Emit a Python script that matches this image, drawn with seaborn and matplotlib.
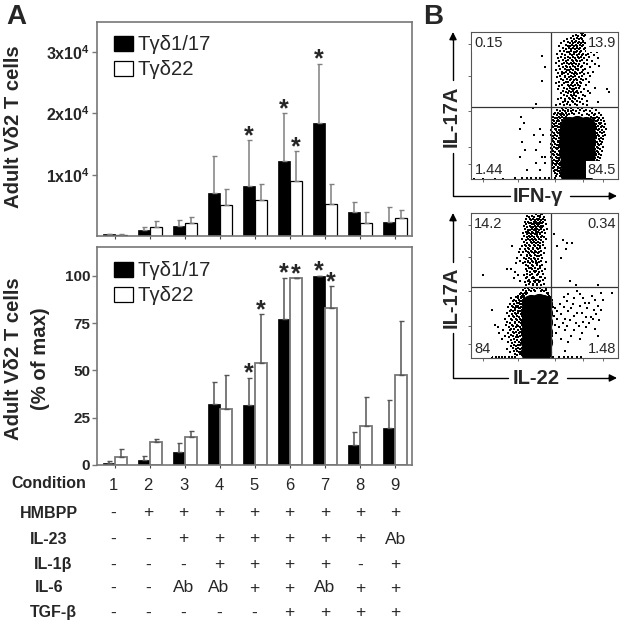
import numpy as np
import pandas as pd
import matplotlib
matplotlib.use("Agg")
import matplotlib.pyplot as plt
from matplotlib.lines import Line2D
import seaborn as sns

# bar data
conditions = ["1", "2", "3", "4", "5", "6", "7", "8", "9"]
subsets = ["Tγδ1/17", "Tγδ22"]

counts_17 = [0.03, 0.10, 0.17, 0.70, 0.82, 1.23, 1.85, 0.39, 0.23]
counts_22 = [0.02, 0.14, 0.21, 0.51, 0.58, 0.89, 0.53, 0.22, 0.29]
counts_17_top = [0.04, 0.15, 0.26, 1.31, 1.56, 2.00, 2.81, 0.55, 0.48]
counts_22_top = [0.03, 0.24, 0.31, 0.76, 0.84, 1.38, 0.84, 0.39, 0.42]

pct_17 = [1.2, 2.6, 6.7, 32, 31.7, 77, 100, 10.8, 19.6]
pct_22 = [4.4, 12, 14.6, 29.8, 54, 98.8, 83, 20.6, 47.4]
pct_17_top = [2.3, 5, 11.8, 44, 46, 99, 100, 17.3, 34.4]
pct_22_top = [8.6, 14, 18, 47.6, 79.7, 98.8, 94.5, 35.8, 76.4]

# which bars get a star (condition index)
stars_counts_17 = [4, 5, 6]
stars_counts_22 = [5]
stars_pct_17 = [4, 5, 6]
stars_pct_22 = [4, 5, 6]

# table under the bars
row_names = ["HMBPP", "IL-23", "IL-1β", "IL-6", "TGF-β"]
row_hmbpp = ["-", "+", "+", "+", "+", "+", "+", "+", "+"]
row_il23 = ["-", "-", "+", "+", "+", "+", "+", "+", "Ab"]
row_il1 = ["-", "-", "-", "+", "+", "+", "+", "-", "+"]
row_il6 = ["-", "-", "Ab", "Ab", "+", "+", "Ab", "+", "+"]
row_tgf = ["-", "-", "-", "-", "-", "+", "+", "+", "+"]

# flow plots: solid parts of the clouds, then rows of single dots (y, [x...]), estimated by eye
core1_x = [67, 72, 77, 67, 72, 78, 66, 72, 78, 66, 72, 78, 66, 72, 78, 67, 72, 78]
core1_y = [4, 4, 4, 11, 11, 11, 18, 18, 18, 25, 25, 25, 31, 31, 31, 36, 37, 36]
rows1 = [
    (99.2, [74.5, 76.1]), (98.1, [71.3, 75.2, 77.8]), (97.2, [73.1, 69.4, 76.7]), (96.1, [67.8, 72.2, 74.6, 78.9]),
    (95.2, [70.3, 73.8, 75.5, 65.1]), (94.1, [68.7, 71.6, 76.4, 79.7, 63.2]), (93.3, [66.2, 70.9, 73.3, 75.9, 81.4]),
    (92.2, [61.4, 67.5, 69.6, 72.7, 74.8, 77.3, 84.6]), (91.1, [64.3, 68.9, 71.1, 73.9, 76.2, 78.8]),
    (90.2, [59.8, 65.7, 67.1, 70.4, 72.4, 75.3, 80.2, 86.7]), (89.1, [62.6, 66.4, 69.2, 71.8, 74.1, 77.6, 83.1]),
    (88.2, [64.9, 67.9, 70.7, 73.4, 76.8, 79.3]), (87.1, [60.7, 63.5, 68.3, 72.1, 75.1, 78.2, 88.2]),
    (86.2, [65.3, 66.9, 69.9, 71.4, 74.4, 81.7, 85.4]), (85.1, [58.6, 62.2, 67.4, 70.1, 73.2, 76.5, 79.9]),
    (84.2, [64.1, 68.6, 71.9, 75.7, 78.4, 83.6]), (83.1, [61.1, 65.9, 69.4, 72.8, 74.9, 80.6]),
    (82.2, [59.3, 63.8, 67.2, 70.6, 73.7, 77.1, 86.1]), (81.1, [62.9, 66.1, 68.4, 71.2, 75.4, 79.1]),
    (80.2, [60.2, 64.7, 69.1, 72.3, 74.3, 82.4]), (79.1, [58.1, 63.1, 65.6, 67.7, 70.2, 76.9]),
    (78.2, [61.8, 66.7, 68.8, 71.7, 73.6, 78.7, 84.1]), (77.1, [59.9, 64.4, 69.7, 72.6, 75.8, 87.4]),
    (76.2, [62.4, 65.2, 67.6, 70.8, 74.7, 80.9]), (75.1, [60.6, 63.9, 68.1, 71.3, 73.1, 77.7]),
    (74.2, [57.9, 65.4, 66.8, 69.3, 72.9, 76.1]), (73.1, [61.6, 64.6, 67.3, 70.5, 75.2, 83.3]),
    (72.2, [59.1, 63.3, 68.7, 71.6, 74.2, 79.4]), (71.1, [62.1, 66.3, 69.8, 72.2, 77.2]),
    (70.2, [60.4, 64.2, 67.9, 70.9, 75.6, 81.1]), (69.1, [58.4, 63.7, 66.6, 69.1, 73.3]),
    (68.2, [61.3, 65.1, 68.2, 71.1, 74.6, 78.1]), (67.1, [62.8, 67.1, 70.3, 72.4, 76.3]),
    (66.2, [59.6, 64.8, 66.2, 69.5, 73.9, 80.3]), (65.1, [57.6, 63.4, 68.9, 71.8, 75.1]),
    (64.2, [61.9, 65.8, 67.8, 70.7, 72.7, 77.9]), (63.1, [60.1, 66.4, 69.2, 74.4]),
    (62.2, [63.6, 67.4, 71.4, 73.5, 84.3]), (61.1, [58.9, 65.5, 68.6, 70.1, 76.7, 92.3]),
    (60.2, [62.3, 66.9, 69.4, 72.1, 79.6]), (59.1, [64.9, 68.1, 71.2, 74.9, 94.1]),
    (58.2, [60.9, 66.1, 69.9, 72.8, 81.2]), (57.1, [63.2, 67.7, 70.4, 75.9]),
    (56.2, [65.3, 68.9, 71.7, 77.4]), (55.1, [61.2, 66.6, 69.1, 73.2]),
    (54.2, [59.4, 64.1, 67.2, 70.9, 75.3]), (53.1, [63.9, 68.4, 72.3, 78.6]),
    (52.2, [62.7, 66.3, 69.6, 74.1, 86.2]), (51.1, [60.3, 65.1, 70.6, 76.2]),
    (50.2, [57.7, 63.3, 67.6, 71.9, 79.2]), (48.1, [61.7, 64.5, 68.3, 72.6, 75.7, 82.1]),
    (47.2, [58.3, 62.5, 66.2, 69.7, 74.3, 78.3, 84.7]), (46.1, [60.5, 63.7, 65.9, 67.9, 71.1, 76.6, 80.7]),
    (45.2, [57.4, 59.2, 61.6, 64.3, 68.8, 73.4, 82.3, 86.8]), (44.1, [56.8, 60.8, 62.6, 66.7, 70.2, 78.9, 84.2]),
    (43.2, [58.7, 61.1, 63.4, 65.2, 75.4, 80.1, 83.4, 88.1]), (42.1, [56.1, 59.7, 62.2, 64.7, 81.3, 85.7]),
    (41.2, [57.3, 58.2, 60.6, 63.1, 82.7, 84.4, 87.2, 89.6]), (40.1, [55.9, 59.1, 61.8, 83.6, 86.3, 88.7]),
    (39.2, [56.6, 58.4, 60.2, 62.3, 84.9, 85.5, 90.4]), (38.1, [55.2, 57.8, 61.4, 83.2, 86.9, 88.3]),
    (37.2, [56.3, 59.6, 60.7, 84.1, 85.2, 87.8, 91.1]), (36.1, [54.8, 57.1, 58.8, 61.9, 83.9, 86.6, 89.2]),
    (35.2, [55.7, 59.3, 60.4, 84.7, 88.4, 90.3]), (34.1, [56.9, 58.1, 61.2, 85.1, 87.1, 91.6]),
    (33.2, [54.6, 57.6, 59.9, 83.7, 86.1, 89.4]), (32.1, [55.4, 58.6, 60.9, 84.3, 87.6, 90.7]),
    (31.2, [56.2, 59.2, 61.6, 85.6, 88.8]), (30.1, [54.3, 57.4, 60.3, 83.4, 86.4, 91.3]),
    (29.2, [55.8, 58.3, 61.1, 84.8, 87.3, 89.9]), (28.1, [56.7, 59.8, 60.6, 85.3, 88.2]),
    (27.2, [54.9, 57.9, 61.3, 83.8, 86.8, 90.1]), (26.1, [55.6, 58.9, 60.1, 84.4, 87.9]),
    (25.2, [56.4, 59.4, 61.7, 85.8, 89.1]), (24.1, [54.2, 57.2, 60.8, 83.3, 86.2, 88.6]),
    (23.2, [55.3, 58.7, 59.7, 84.6, 87.4]), (22.1, [56.8, 60.2, 61.4, 85.4, 89.7]),
    (21.2, [54.7, 57.7, 59.1, 83.6, 86.7]), (20.1, [55.1, 58.2, 60.9, 84.2, 87.7]),
    (19.2, [56.1, 59.6, 61.2, 85.9, 88.9]), (18.1, [54.4, 57.3, 60.4, 83.1, 86.3]),
    (17.2, [55.9, 58.8, 61.8, 84.9, 87.2]), (16.1, [56.6, 59.3, 60.7, 85.2, 88.4]),
    (15.2, [54.5, 57.5, 61.1, 83.7, 86.6]), (14.1, [55.2, 58.4, 59.8, 84.5, 87.5]),
    (13.2, [56.3, 60.1, 61.6, 85.7]), (12.1, [54.8, 57.8, 59.2, 83.4, 86.9]),
    (11.2, [55.7, 58.6, 60.6]), (10.1, [56.9, 59.7, 61.3]), (9.2, [55.4, 57.6, 60.3]), (8.1, [56.2, 58.9, 61.7]),
    (7.2, [55.6, 59.1, 60.8]), (6.1, [57.1, 58.3, 61.2]), (5.2, [56.5, 59.4, 60.2]), (4.1, [57.4, 60.7]),
    (3.2, [58.6, 61.4]), (2.1, [57.8, 60.4]),
    # the few cells left of the gate
    (84, [48]), (76, [50]), (67, [48]), (51, [44]), (48.5, [42]), (42, [34]), (38, [36]), (34, [33, 47]),
    (30, [43, 49]), (25, [35, 47]), (20, [37, 44]), (15, [33, 48, 50]), (11, [44, 50]), (6, [38, 47]),
    (1, [2, 8, 16, 22, 30, 35, 38, 41, 44, 47, 50, 53, 57]),
]

core2_x = [40, 45, 48, 40, 45, 49, 40, 45, 49, 40, 45, 49, 40, 45, 49, 41, 46, 49]
core2_y = [4, 4, 4, 11, 11, 11, 18, 18, 18, 25, 25, 25, 31, 31, 31, 37, 38, 37]
rows2 = [
    (99.2, [44.3, 47.6, 48.4]), (98.1, [38.2, 41.7, 45.3, 46.8]), (97.2, [39.6, 43.1, 47.2, 49.4]),
    (96.1, [37.4, 40.3, 42.2, 44.7, 46.1, 48.7]), (95.2, [41.1, 43.8, 45.9, 47.9, 50.2]),
    (94.1, [36.6, 38.8, 42.7, 44.2, 46.6, 49.1]), (93.2, [39.2, 40.9, 43.4, 45.4, 47.4, 48.2]),
    (92.1, [37.7, 41.6, 42.9, 44.9, 46.3, 50.7]), (91.2, [35.9, 39.9, 43.6, 45.7, 47.8, 49.3]),
    (90.1, [38.4, 40.6, 42.1, 44.4, 46.9, 48.6]), (89.2, [36.9, 41.3, 43.2, 45.1, 47.3, 51.6]),
    (88.1, [39.1, 40.2, 42.6, 44.1, 46.4, 49.7]), (87.2, [37.2, 38.7, 41.8, 43.9, 45.8, 48.1]),
    (86.1, [35.4, 39.7, 42.4, 44.6, 47.1, 50.4]), (85.2, [38.1, 40.8, 43.3, 45.2, 46.7, 56.2]),
    (84.1, [36.3, 39.3, 41.4, 44.8, 48.4]), (83.2, [37.9, 40.1, 42.8, 45.6, 47.7, 49.9]),
    (82.1, [34.6, 38.9, 41.2, 43.7, 46.2, 51.1]), (81.2, [37.1, 39.8, 42.3, 44.3, 47.4, 62.4]),
    (80.1, [35.8, 40.7, 43.1, 45.9, 48.8]), (79.2, [38.3, 41.6, 44.2, 46.6, 65.2, 68.4]),
    (78.1, [36.7, 39.4, 42.7, 45.3, 49.2]), (77.2, [28.2, 34.9, 37.6, 40.4, 43.8, 47.2, 58.3]),
    (76.1, [38.6, 41.9, 44.7, 46.8, 50.3]), (75.2, [33.1, 36.4, 39.6, 42.2, 45.4, 64.3]),
    (74.1, [37.3, 40.9, 43.4, 47.9]), (73.2, [32.4, 35.3, 38.8, 41.3, 44.1, 46.3]),
    (72.1, [39.2, 42.6, 45.7, 49.6]), (71.2, [34.2, 37.8, 40.2, 43.6, 47.6]),
    (70.1, [38.1, 41.1, 44.9, 46.1]), (69.2, [31.3, 36.1, 39.7, 42.9, 48.3, 61.2]),
    (68.1, [37.4, 40.6, 43.2, 45.6]), (67.2, [33.4, 38.6, 41.8, 44.4, 47.3]),
    (66.1, [36.8, 39.1, 42.1, 46.4, 51.2]), (65.2, [30.4, 35.1, 40.3, 43.9, 45.1]),
    (64.1, [37.7, 41.4, 44.6, 48.1]), (63.2, [38.9, 42.4, 46.9]), (62.1, [39.4, 40.8, 43.3, 47.1]),
    (61.2, [24.3, 27.1, 37.2, 41.7, 45.3, 50.1]), (60.1, [38.4, 42.8, 44.3, 48.6]),
    (59.2, [30.2, 39.9, 43.7, 46.2]), (58.1, [37.9, 41.2, 45.8, 49.3]),
    (57.2, [8.3, 32.1, 36.2, 40.1, 44.8]), (56.1, [38.2, 42.3, 46.7, 47.8]),
    (55.2, [29.2, 37.1, 41.6, 43.1, 50.4]), (54.1, [39.3, 44.1, 45.9, 48.9]),
    (53.2, [33.2, 38.7, 42.9, 47.2, 67.3]), (52.1, [36.6, 40.4, 43.8, 46.1]),
    (51.2, [39.6, 41.9, 44.6, 49.7]), (50.1, [37.3, 42.2, 45.2, 47.7, 71.4, 86.3]),
    (48.1, [36.4, 38.6, 41.3, 44.9, 46.8, 51.3]), (47.1, [35.2, 39.2, 42.7, 48.2, 50.8]),
    (46.2, [37.6, 40.7, 43.6, 47.3, 49.4, 72.3]), (45.1, [34.3, 36.9, 38.4, 51.6, 52.7, 88.4, 96.2]),
    (44.2, [33.3, 35.6, 37.2, 52.3, 66.2, 74.1]), (43.1, [32.2, 34.7, 36.1, 53.2, 82.4]),
    (42.2, [30.3, 33.8, 35.2, 52.8, 54.1, 63.1]), (41.1, [27.4, 31.7, 34.1, 36.3, 53.6, 70.4, 76.2]),
    (40.2, [29.1, 32.6, 35.7, 52.1, 55.2, 84.3, 90.1]), (39.1, [28.3, 30.9, 33.4, 34.9, 53.9, 65.4]),
    (38.2, [31.2, 32.9, 35.3, 52.6, 77.3, 80.2]), (37.1, [26.2, 29.4, 33.1, 34.4, 54.6, 60.3, 69.2]),
    (36.2, [27.7, 30.6, 32.3, 35.8, 53.1, 74.4, 86.1]), (35.1, [25.3, 28.6, 31.4, 34.2, 55.7, 63.6]),
    (34.2, [29.8, 32.7, 33.6, 35.4, 52.4, 57.1, 68.3, 79.2]), (33.1, [14.2, 27.2, 30.2, 34.8, 54.3, 83.4, 88.2]),
    (32.2, [26.6, 28.9, 31.8, 33.2, 53.4, 58.2, 66.1]), (31.1, [24.2, 29.6, 32.1, 35.1, 55.1, 72.3, 75.4]),
    (30.2, [27.6, 30.8, 33.9, 52.9, 61.4, 85.2]), (29.1, [25.8, 28.3, 31.1, 34.6, 56.3, 70.3]),
    (28.2, [29.3, 32.4, 35.6, 53.7, 78.2, 81.3]), (27.1, [23.3, 26.9, 30.4, 33.3, 58.6, 64.2, 83.1]),
    (26.2, [28.1, 31.6, 34.3, 52.2, 67.4, 87.3]), (25.1, [24.8, 29.9, 32.8, 35.9, 54.9, 76.1]),
    (24.2, [26.3, 30.1, 33.7, 62.3, 71.2, 80.4]), (23.1, [16.3, 23.9, 27.8, 31.3, 34.7, 52.7, 57.4]),
    (22.2, [28.8, 32.2, 35.2, 65.3, 73.4]), (21.1, [18.2, 25.6, 30.7, 33.1, 53.3, 60.2, 78.3]),
    (20.2, [27.3, 29.4, 34.1, 84.4]), (19.1, [22.1, 26.8, 31.9, 35.7, 52.3, 64.1, 70.2]),
    (18.2, [28.4, 30.3, 33.4, 54.4]), (17.1, [19.3, 25.1, 29.2, 32.6, 36.1, 53.8, 58.1, 75.3]),
    (16.2, [27.1, 31.2, 34.9, 52.6]), (15.1, [23.2, 28.7, 33.2, 35.3, 55.4, 68.2, 86.4]),
    (14.2, [26.1, 30.6, 32.3, 36.3]), (13.1, [21.3, 29.1, 34.4, 52.1, 61.3, 74.2]),
    (12.2, [27.4, 31.4, 33.8, 35.8]), (11.1, [25.2, 30.2, 32.7, 36.4, 53.2, 66.3]),
    (10.2, [28.2, 34.2, 35.4]), (9.1, [29.3, 31.7, 33.3, 52.4]), (8.2, [27.2, 30.9, 36.2, 54.1]),
    (7.1, [28.6, 32.1, 34.7, 35.6]), (6.2, [24.3, 30.4, 33.6, 53.4]), (5.1, [29.4, 31.1, 35.1, 64.2]),
    (4.2, [26.4, 32.6, 34.3, 36.6]), (3.1, [30.1, 33.1, 35.7, 52.2]), (2.2, [31.6, 34.6, 36.3]),
    (1, [14, 17, 19, 21, 23, 26, 28, 30, 56, 60, 63, 66, 69, 72, 75]),
]

labels1 = ["0.15", "13.9", "1.44", "84.5"]
labels2 = ["14.2", "0.34", "84", "1.48"]

sns.set_style("white")
plt.rcParams["font.family"] = ["Liberation Sans", "DejaVu Sans"]
plt.rcParams["mathtext.fontset"] = "custom"
plt.rcParams["mathtext.bf"] = "Liberation Sans:bold"
plt.rcParams["mathtext.rm"] = "Liberation Sans"

W, H = 624, 628
fig = plt.figure(figsize=(W / 100, H / 100), dpi=100)


def axes_px(left, top, right, bottom):
    return fig.add_axes([left / W, 1 - bottom / H, (right - left) / W, (bottom - top) / H])


def bars(ax, v17, v22, top17, top22, err_col, edge_col, edge_w, ymax, leg_y):
    df = pd.DataFrame({
        "condition": conditions * 2,
        "value": v17 + v22,
        "subset": [subsets[0]] * 9 + [subsets[1]] * 9,
    })
    sns.barplot(data=df, x="condition", y="value", hue="subset", order=conditions,
                palette={subsets[0]: "black", subsets[1]: "white"}, width=0.686,
                gap=0, errorbar=None, saturation=1, ax=ax)
    centers = []
    for cont, vals, tops in zip(ax.containers, (v17, v22), (top17, top22)):
        xs = [p.get_x() + p.get_width() / 2 for p in cont.patches]
        centers.append(xs)
        for p in cont.patches:
            p.set_edgecolor(edge_col if vals is v22 else "black")
            p.set_linewidth(edge_w if vals is v22 else 0.5)
        vals = np.array(vals)
        ax.errorbar(xs, vals, yerr=[np.zeros(9), np.array(tops) - vals], fmt="none",
                    ecolor=err_col, elinewidth=1.1, capsize=1.8, capthick=1, zorder=1)
    ax.set_xlim(-0.514, 8.486)
    ax.set_ylim(0, ymax)
    ax.set_xlabel("")
    ax.set_ylabel("")
    ax.tick_params(axis="x", bottom=True, length=2.5, width=0.8, color="#444444", labelbottom=False)
    ax.tick_params(axis="y", left=True, length=3.5, width=1, color="#777777", pad=1.5)
    for s in ax.spines.values():
        s.set_color("#777777")
        s.set_linewidth(1.2)
    handles, names = ax.get_legend_handles_labels()
    ax.legend(handles, names, loc="upper left", bbox_to_anchor=(0.035, leg_y), frameon=False,
              fontsize=14.6, handlelength=0.92, handleheight=0.72, handletextpad=0.22,
              labelspacing=0.3, borderpad=0.3, borderaxespad=0)
    leg = ax.get_legend()
    leg.legend_handles[0].set_edgecolor("black")
    leg.legend_handles[1].set_edgecolor("black")
    leg.legend_handles[1].set_linewidth(0.9)
    return centers


def stars(ax, xs, tops, idx):
    for i in idx:
        ax.annotate("*", (xs[i], tops[i]), xytext=(0, -5.5), textcoords="offset points",
                    ha="center", va="bottom", fontsize=18, fontweight="bold", annotation_clip=False)


def flow(ax, core_x, core_y, rows, texts):
    ax.set_xlim(0, 100)
    ax.set_ylim(0, 100)
    sns.scatterplot(x=core_x, y=core_y, s=190, color="black", linewidth=0, marker="o", ax=ax)
    xs = np.concatenate([r[1] for r in rows])
    ys = np.concatenate([[r[0]] * len(r[1]) for r in rows])
    sns.scatterplot(x=xs, y=ys, s=2.8, color="black", linewidth=0, marker="s", ax=ax)
    ax.axvline(54.5, color="#333333", lw=0.9)
    ax.axhline(49, color="#333333", lw=0.9)
    for s in ax.spines.values():
        s.set_color("#555555")
        s.set_linewidth(0.8)
    ax.set_xticks([8, 32, 57, 76, 90])
    ax.set_yticks([10, 22, 46, 70, 92])
    ax.tick_params(length=2, width=0.6, color="#555555", labelbottom=False, labelleft=False, bottom=True, left=True)
    box = dict(facecolor="white", edgecolor="none", pad=1)
    ax.text(2, 97, texts[0], va="top", ha="left", fontsize=10.5, bbox=box)
    ax.text(98.5, 97, texts[1], va="top", ha="right", fontsize=10.5, bbox=box)
    ax.text(2.5, 1.5, texts[2], va="bottom", ha="left", fontsize=10.5, bbox=box)
    ax.text(98.5, 1.5, texts[3], va="bottom", ha="right", fontsize=10.5, bbox=box)


# panel A, counts
ax1 = axes_px(97, 22, 412, 236)
c1 = bars(ax1, counts_17, counts_22, counts_17_top, counts_22_top, "#808080", "black", 0.9, 3.49, 0.966)
ax1.set_yticks([1, 2, 3])
ax1.set_yticklabels([r"$\mathbf{1x10^4}$", r"$\mathbf{2x10^4}$", r"$\mathbf{3x10^4}$"], fontsize=11.5)
stars(ax1, c1[0], counts_17_top, stars_counts_17)
stars(ax1, c1[1], counts_22_top, stars_counts_22)

# panel A, percent
ax2 = axes_px(97, 247, 412, 465)
c2 = bars(ax2, pct_17, pct_22, pct_17_top, pct_22_top, "#555555", "#777777", 1.3, 115.3, 0.962)
ax2.set_yticks([0, 25, 50, 75, 100])
ax2.set_yticklabels(["0", "25", "50", "75", "100"], fontweight="bold", fontsize=11)
stars(ax2, c2[0], pct_17_top, stars_pct_17)
stars(ax2, c2[1], pct_22_top, stars_pct_22)

# panel B
ax3 = axes_px(471, 32, 618, 179)
flow(ax3, core1_x, core1_y, rows1, labels1)
ax4 = axes_px(471, 213, 618, 358)
flow(ax4, core2_x, core2_y, rows2, labels2)

# overlay in pixels for labels, table text and the arrows of panel B
ov = fig.add_axes([0, 0, 1, 1], zorder=5)
ov.set_xlim(0, W)
ov.set_ylim(H, 0)
ov.axis("off")
ov.patch.set_alpha(0)

bold = dict(fontweight="bold", ha="center", va="center")
ov.text(16, 17, "A", fontsize=20, **bold)
ov.text(433, 17, "B", fontsize=20, **bold)
ov.text(14, 127, "Adult Vδ2 T cells", fontsize=14.6, rotation=90, **bold)
ov.text(14, 359, "Adult Vδ2 T cells", fontsize=14.6, rotation=90, **bold)
ov.text(41, 359, "(% of max)", fontsize=14.6, rotation=90, **bold)

# table
ov.text(49, 484, "Condition", fontsize=11.5, **bold)
table_rows = [row_hmbpp, row_il23, row_il1, row_il6, row_tgf]
table_y = [513, 539, 565, 588, 613]
name_x = [49, 49, 53, 49, 53]
for name, vals, y, nx in zip(row_names, table_rows, table_y, name_x):
    ov.text(nx, y, name, fontsize=11.5, **bold)
    for i, v in enumerate(vals):
        ov.text(113 + i * 35.3, y, v, ha="center", va="center", fontsize=12.5)
for i, c in enumerate(conditions):
    ov.text(113 + i * 35.3, 485, c, ha="center", va="center", fontsize=12)


def arrows(top, bottom, y_mid, x_name, x1, x2, y_name, name_y, name_x_label):
    x0 = 453
    ov.add_line(Line2D([x0, x0], [top + 6, y_mid[0]], color="black", lw=1))
    ov.add_line(Line2D([x0, x0, x1], [y_mid[1], bottom, bottom], color="black", lw=1))
    ov.add_line(Line2D([x2, 611], [bottom, bottom], color="black", lw=1))
    ov.annotate("", xy=(x0, top), xytext=(x0, top + 8), arrowprops=dict(arrowstyle="-|>", color="black", lw=1, mutation_scale=11, shrinkA=0, shrinkB=0))
    ov.annotate("", xy=(617, bottom), xytext=(609, bottom), arrowprops=dict(arrowstyle="-|>", color="black", lw=1, mutation_scale=11, shrinkA=0, shrinkB=0))
    ov.text(451, name_y, y_name, fontsize=14.5, rotation=90, **bold)
    ov.text(x_name, bottom, name_x_label, fontsize=14.5, **bold)


arrows(32, 196, (80, 153), 538, 510, 570, "IL-17A", 116, "IFN-γ")
arrows(213, 378, (262, 333), 536, 508, 567, "IL-17A", 297, "IL-22")

fig.savefig("out.png", dpi=100)
